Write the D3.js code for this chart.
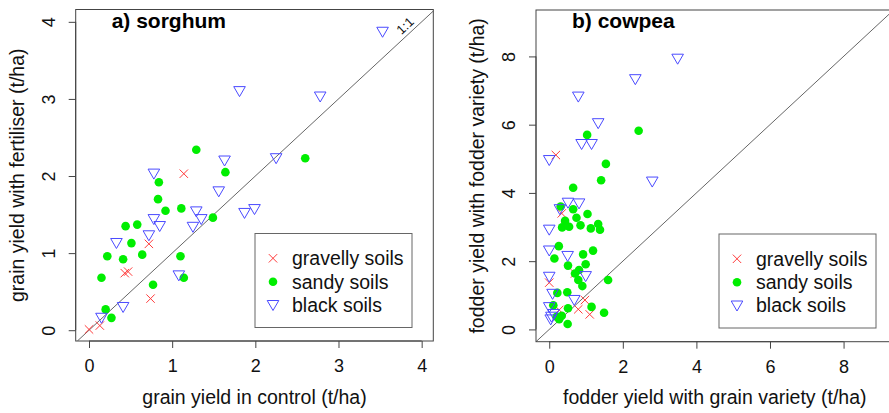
<!DOCTYPE html>
<html>
<head>
<meta charset="utf-8">
<script src="https://cdn.jsdelivr.net/npm/d3@7"></script>
<style>
  html, body { margin: 0; padding: 0; background: #fff; }
  svg { display: block; font-family: "Liberation Sans", Arial, Helvetica, sans-serif; }
</style>
</head>
<body>
<svg id="chart" width="889" height="413"></svg>
<script>
// Soil groups and legend order
const soilNames = ["gravelly soils", "sandy soils", "black soils"];

// a) sorghum: grain yield in control (x) vs with fertiliser (y), t/ha
const sorghumGravellyX = [0.00, 0.13, 1.14, 0.72, 0.43, 0.47, 0.74];
const sorghumGravellyY = [0.01, 0.06, 2.03, 1.12, 0.74, 0.76, 0.41];
const sorghumSandyX = [1.29, 2.60, 1.64, 0.84, 0.83, 0.92, 1.11, 1.49, 0.44, 0.58, 0.51, 0.22, 0.41, 0.64, 1.10, 0.15, 1.14, 0.77, 0.20, 0.27];
const sorghumSandyY = [2.34, 2.23, 2.05, 1.92, 1.70, 1.55, 1.58, 1.46, 1.35, 1.37, 1.13, 0.96, 0.92, 0.98, 0.96, 0.68, 0.68, 0.59, 0.27, 0.16];
const sorghumBlackX = [3.53, 1.81, 2.78, 1.63, 2.25, 0.78, 1.56, 1.87, 1.99, 1.29, 1.35, 0.78, 0.85, 1.25, 0.72, 0.33, 1.08, 0.41, 0.15];
const sorghumBlackY = [3.87, 3.10, 3.03, 2.20, 2.23, 2.03, 1.80, 1.52, 1.57, 1.54, 1.44, 1.44, 1.35, 1.34, 1.23, 1.13, 0.71, 0.30, 0.16];

// b) cowpea: fodder yield with grain variety (x) vs with fodder variety (y), t/ha
const cowpeaGravellyX = [0.18, 0.34, 0.00, 0.70, 0.97, 0.79, 1.10, 0.27];
const cowpeaGravellyY = [5.11, 3.40, 1.37, 1.64, 0.86, 0.59, 0.44, 0.57];
const cowpeaSandyX = [2.43, 1.03, 1.54, 1.41, 0.65, 0.31, 0.65, 0.74, 1.04, 0.43, 0.85, 1.33, 1.13, 0.35, 0.54, 1.38, 0.26, 0.14, 0.92, 1.19, 0.51, 0.99, 0.81, 0.70, 0.79, 0.90, 1.60, 0.22, 0.49, 0.11, 0.51, 1.15, 1.49, 0.20, 0.34, 0.50, 0.27];
const cowpeaSandyY = [5.82, 5.70, 4.85, 4.37, 4.15, 3.60, 3.52, 3.27, 3.38, 3.18, 3.05, 3.09, 2.96, 2.99, 3.01, 2.92, 2.44, 2.08, 2.20, 2.31, 1.87, 1.91, 1.74, 1.64, 1.45, 1.27, 1.45, 1.07, 1.09, 0.71, 0.62, 0.66, 0.49, 0.37, 0.40, 0.16, 0.30];
const cowpeaBlackX = [3.49, 2.34, 0.79, 1.33, 0.88, 1.15, 0.00, 2.80, 0.51, 0.81, 0.29, 0.00, 0.00, 0.50, 0.00, 0.99, 0.09, 0.68, 0.00, 0.06, 0.04, 0.12];
const cowpeaBlackY = [7.93, 7.33, 6.82, 6.04, 5.43, 5.43, 4.96, 4.33, 3.71, 3.69, 3.52, 2.92, 2.31, 2.15, 1.54, 1.56, 1.04, 0.86, 0.65, 0.37, 0.29, 0.45];

// Axis ticks
const sorghumTicks = [0, 1, 2, 3, 4];
const cowpeaTicks = [0, 2, 4, 6, 8];

const colours = { gravelly: "#ff3b3b", sandy: "#00ee00", black: "#4a4aff" };

const svg = d3.select("#chart");
const boxColour = "#444";

const panels = [
  {
    id: "sorghum",
    title: "a) sorghum",
    xLabel: "grain yield in control (t/ha)",
    yLabel: "grain yield with fertiliser (t/ha)",
    xDomain: [-0.16, 4.14], yDomain: [-0.14, 4.16],
    xRange: [75.7, 433.3], yRange: [341, 9.5],
    ticks: sorghumTicks,
    groups: [
      { key: "gravelly", x: sorghumGravellyX, y: sorghumGravellyY },
      { key: "sandy", x: sorghumSandyX, y: sorghumSandyY },
      { key: "black", x: sorghumBlackX, y: sorghumBlackY }
    ],
    legend: { x: 255, y: 233.5, w: 157, h: 94 },
    oneToOne: true
  },
  {
    id: "cowpea",
    title: "b) cowpea",
    xLabel: "fodder yield with grain variety (t/ha)",
    yLabel: "fodder yield with fodder variety (t/ha)",
    xDomain: [-0.36, 9.36], yDomain: [-0.36, 9.36],
    xRange: [536, 893.6], yRange: [341.7, 10],
    ticks: cowpeaTicks,
    groups: [
      { key: "gravelly", x: cowpeaGravellyX, y: cowpeaGravellyY },
      { key: "sandy", x: cowpeaSandyX, y: cowpeaSandyY },
      { key: "black", x: cowpeaBlackX, y: cowpeaBlackY }
    ],
    legend: { x: 719, y: 234, w: 157, h: 94 },
    oneToOne: false
  }
];

// Marker shapes: cross, filled dot, open down-pointing triangle
function drawMarker(g, key, cx, cy) {
  if (key === "gravelly") {
    const r = 4.2;
    g.append("path")
      .attr("d", `M${cx - r},${cy - r}L${cx + r},${cy + r}M${cx - r},${cy + r}L${cx + r},${cy - r}`)
      .attr("stroke", colours.gravelly).attr("stroke-width", 1).attr("fill", "none");
  } else if (key === "sandy") {
    g.append("circle").attr("cx", cx).attr("cy", cy).attr("r", 4.3)
      .attr("fill", colours.sandy);
  } else {
    const hw = 5.8, top = 4.6, bot = 5.4;
    g.append("path")
      .attr("d", `M${cx - hw},${cy - top}L${cx + hw},${cy - top}L${cx},${cy + bot}Z`)
      .attr("stroke", colours.black).attr("stroke-width", 1).attr("fill", "none");
  }
}

panels.forEach(p => {
  const x = d3.scaleLinear().domain(p.xDomain).range(p.xRange);
  const y = d3.scaleLinear().domain(p.yDomain).range(p.yRange);
  const g = svg.append("g").attr("class", p.id);

  const left = p.xRange[0], right = p.xRange[1], top = p.yRange[1], bottom = p.yRange[0];

  g.append("clipPath").attr("id", "clip-" + p.id)
    .append("rect").attr("x", left).attr("y", top)
    .attr("width", right - left).attr("height", bottom - top);

  // 1:1 line across the plotting region
  const lo = Math.max(p.xDomain[0], p.yDomain[0]);
  const hi = Math.min(p.xDomain[1], p.yDomain[1]) + 1;
  g.append("line")
    .attr("clip-path", `url(#clip-${p.id})`)
    .attr("x1", x(lo)).attr("y1", y(lo))
    .attr("x2", x(hi)).attr("y2", y(hi))
    .attr("stroke", "#666").attr("stroke-width", 1);

  if (p.oneToOne) {
    g.append("text")
      .attr("transform", `translate(${x(3.80)},${y(3.95)}) rotate(-43)`)
      .attr("text-anchor", "middle").attr("dy", "0.35em")
      .attr("font-size", 13).attr("fill", "#111")
      .text("1:1");
  }

  // Points
  const pts = g.append("g").attr("clip-path", `url(#clip-${p.id})`);
  p.groups.forEach(grp => {
    grp.x.forEach((v, i) => drawMarker(pts, grp.key, x(v), y(grp.y[i])));
  });

  // Plot box
  g.append("rect").attr("x", left).attr("y", top)
    .attr("width", right - left).attr("height", bottom - top)
    .attr("fill", "none").attr("stroke", boxColour).attr("stroke-width", 1);

  // Bottom axis
  const xAxis = g.append("g").attr("transform", `translate(0,${bottom})`)
    .call(d3.axisBottom(x).tickValues(p.ticks).tickSize(7).tickPadding(0).tickFormat(d3.format("d")));
  xAxis.select(".domain").attr("d", `M${x(p.ticks[0])},0H${x(p.ticks[p.ticks.length - 1])}`).attr("stroke", boxColour);
  xAxis.selectAll(".tick line").attr("stroke", boxColour);
  xAxis.selectAll(".tick text").attr("font-size", 18).attr("fill", "#111")
    .attr("y", 31).attr("dy", 0);

  // Left axis, labels parallel to the axis
  const yAxis = g.append("g").attr("transform", `translate(${left},0)`)
    .call(d3.axisLeft(y).tickValues(p.ticks).tickSize(7).tickFormat(d3.format("d")));
  yAxis.select(".domain").attr("d", `M0,${y(p.ticks[0])}V${y(p.ticks[p.ticks.length - 1])}`).attr("stroke", boxColour);
  yAxis.selectAll(".tick line").attr("stroke", boxColour);
  yAxis.selectAll(".tick text")
    .attr("font-size", 18).attr("fill", "#111")
    .attr("x", 0).attr("dy", 0)
    .attr("text-anchor", "middle")
    .attr("transform", "translate(-21,0) rotate(-90)");
  svg.selectAll("g.tick text").attr("font-family", null);
  xAxis.attr("font-family", null);
  yAxis.attr("font-family", null);

  // Axis titles
  g.append("text")
    .attr("x", (left + right) / 2).attr("y", 404)
    .attr("text-anchor", "middle").attr("font-size", 19.5).attr("fill", "#111")
    .text(p.xLabel);
  g.append("text")
    .attr("transform", `translate(${left - 52},${(top + bottom) / 2}) rotate(-90)`)
    .attr("text-anchor", "middle").attr("font-size", 19.5).attr("fill", "#111")
    .text(p.yLabel);

  // Panel title
  g.append("text")
    .attr("x", left + 36).attr("y", top + 18)
    .attr("font-size", 21).attr("font-weight", "bold").attr("fill", "#000")
    .text(p.title);

  // Legend
  const L = p.legend;
  const lg = g.append("g");
  lg.append("rect").attr("x", L.x).attr("y", L.y).attr("width", L.w).attr("height", L.h)
    .attr("fill", "#fff").attr("stroke", "#666").attr("stroke-width", 1);
  ["gravelly", "sandy", "black"].forEach((k, i) => {
    const cy = L.y + 24.8 + i * 23.4;
    drawMarker(lg, k, L.x + 18, cy);
    lg.append("text").attr("x", L.x + 37).attr("y", cy).attr("dy", "0.35em")
      .attr("font-size", 19.5).attr("fill", "#111")
      .text(soilNames[i]);
  });
});
</script>
</body>
</html>
